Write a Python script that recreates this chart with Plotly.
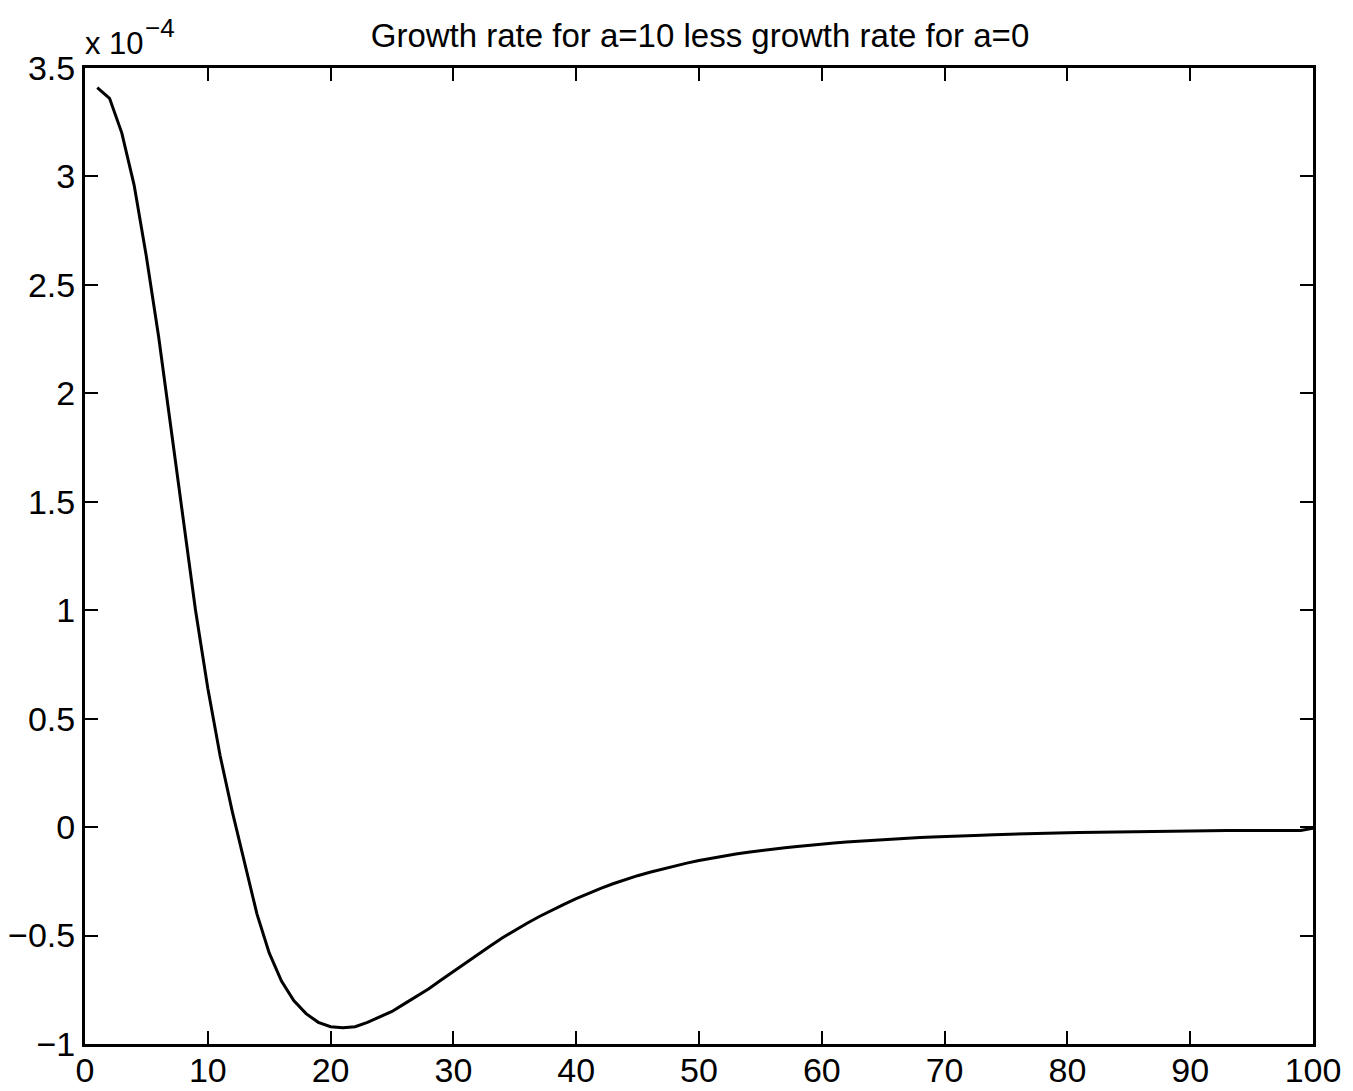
import plotly.graph_objects as go

# x positions (integer steps)
x_vals = list(range(1, 101))
# values in units of 1e-4
y_vals = [
    3.41, 3.36, 3.20, 2.96, 2.63, 2.26, 1.84, 1.43, 1.00, 0.64,
    0.33, 0.07, -0.16, -0.40, -0.58, -0.71, -0.80, -0.86, -0.90, -0.92,
    -0.925, -0.92, -0.90, -0.875, -0.85, -0.815, -0.78, -0.745, -0.705, -0.665,
    -0.625, -0.585, -0.548, -0.51, -0.475, -0.443, -0.412, -0.383, -0.356, -0.33,
    -0.305, -0.282, -0.261, -0.242, -0.224, -0.208, -0.193, -0.179, -0.166, -0.154,
    -0.143, -0.133, -0.124, -0.116, -0.108, -0.101, -0.095, -0.089, -0.083, -0.078,
    -0.073, -0.069, -0.065, -0.061, -0.058, -0.054, -0.051, -0.048, -0.046, -0.043,
    -0.041, -0.039, -0.037, -0.035, -0.033, -0.031, -0.030, -0.028, -0.027, -0.026,
    -0.025, -0.024, -0.023, -0.022, -0.021, -0.020, -0.020, -0.019, -0.018, -0.018,
    -0.017, -0.017, -0.016, -0.016, -0.016, -0.016, -0.016, -0.016, -0.016, -0.005,
]

x_ticks = [0, 10, 20, 30, 40, 50, 60, 70, 80, 90, 100]
y_ticks = [-1, -0.5, 0, 0.5, 1, 1.5, 2, 2.5, 3, 3.5]
y_tick_labels = ["\u22121", "\u22120.5", "0", "0.5", "1", "1.5", "2", "2.5", "3", "3.5"]

title_text = "Growth rate for a=10 less growth rate for a=0"
exp_base_text = "x 10"
exp_power_text = "\u22124"

FONT = "Liberation Sans, Arial, Helvetica, sans-serif"

fig = go.Figure()
fig.add_trace(go.Scatter(
    x=x_vals, y=y_vals, mode="lines",
    line=dict(color="black", width=3),
    showlegend=False,
))

axis_common = dict(
    showline=True, linecolor="black", linewidth=3,
    mirror="allticks", ticks="inside", ticklen=13, tickwidth=2, tickcolor="black",
    showgrid=False, zeroline=False, automargin=False,
    tickfont=dict(family=FONT, size=34, color="black"),
)

fig.update_xaxes(range=[0, 100], tickvals=x_ticks, ticktext=[str(t) for t in x_ticks],
                 ticklabelstandoff=-6, **axis_common)
fig.update_yaxes(range=[-1, 3.5], tickvals=y_ticks, ticktext=y_tick_labels,
                 ticklabelstandoff=0, **axis_common)

fig.update_layout(
    width=1345, height=1083,
    margin=dict(l=77, r=40, t=60, b=47),
    paper_bgcolor="white", plot_bgcolor="white",
    font=dict(family=FONT, color="black"),
    title=dict(text=title_text, x=0.5145, xanchor="center", y=0.975, yanchor="middle",
               font=dict(family=FONT, size=33, color="black")),
    annotations=[
        dict(text=exp_base_text, xref="paper", yref="paper", x=-0.002, y=1.0246,
             xanchor="left", yanchor="middle", showarrow=False,
             font=dict(family=FONT, size=31, color="black")),
        dict(text=exp_power_text, xref="paper", yref="paper", x=0.047, y=1.041,
             xanchor="left", yanchor="middle", showarrow=False,
             font=dict(family=FONT, size=26, color="black")),
    ],
)

fig.write_html("out.html")
